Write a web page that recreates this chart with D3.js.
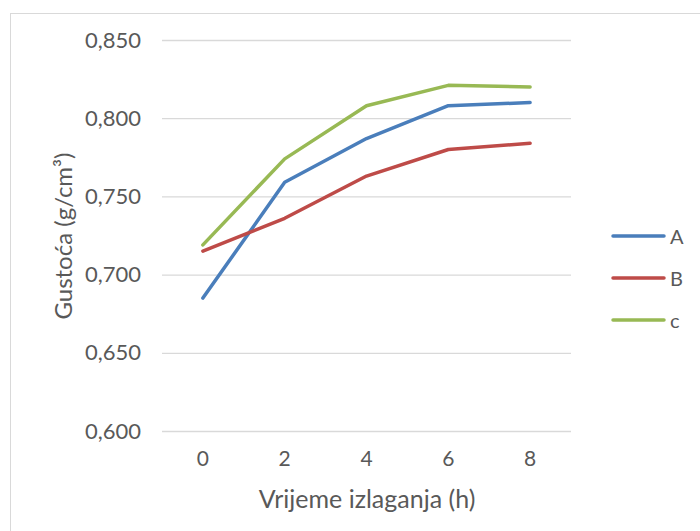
<!DOCTYPE html>
<html><head><meta charset="utf-8">
<script src="https://cdn.jsdelivr.net/npm/d3@7"></script>
<style>body{margin:0;background:#fff}svg{display:block}text{font-family:Lato,"Open Sans",sans-serif;fill:#595959}</style>
</head><body>
<svg id="c" width="700" height="531"></svg>
<script>
const categories = ["0","2","4","6","8"];
const seriesNames = ["A","B","C"];
const legendLabels = ["A","B","c"];
const valuesA = [0.685,0.759,0.787,0.808,0.810];
const valuesB = [0.715,0.736,0.763,0.780,0.784];
const valuesC = [0.719,0.774,0.808,0.821,0.820];
const yTicks = [0.600,0.650,0.700,0.750,0.800,0.850];
const colors = ["#4a7ebb","#be4b48","#98b954"];

const svg = d3.select("#c");
const allValues = [valuesA, valuesB, valuesC];
const m = {left:162, right:571, top:40, bottom:431};

svg.append("rect").attr("x",10.5).attr("y",13.5).attr("width",700).attr("height",530)
  .attr("fill","none").attr("stroke","#d9d9d9");

const x = d3.scaleBand().domain(categories).range([m.left,m.right]);
const y = d3.scaleLinear().domain([0.6,0.85]).range([m.bottom,m.top]);

const fmt = v => d3.format(".3f")(v).replace(".",",");

const yAxis = svg.append("g").attr("transform",`translate(${m.left},0)`)
  .call(d3.axisLeft(y).tickValues(yTicks).tickFormat(fmt).tickSize(-(m.right-m.left)).tickPadding(21));
yAxis.select(".domain").remove();
yAxis.selectAll(".tick line").attr("stroke","#d9d9d9").attr("stroke-width",1.3);
yAxis.selectAll(".tick text").attr("font-size",22).attr("fill","#666");

const xAxis = svg.append("g").attr("transform",`translate(0,${m.bottom})`)
  .call(d3.axisBottom(x).tickSize(0).tickPadding(20));
xAxis.select(".domain").remove();
xAxis.selectAll(".tick text").attr("font-size",21).attr("fill","#666");

const line = d3.line().x((d,i)=>x(categories[i])+x.bandwidth()/2).y(d=>y(d));
allValues.forEach((vals,k)=>{
  svg.append("path").datum(vals).attr("d",line).attr("fill","none")
    .attr("stroke",colors[k]).attr("stroke-width",3.5).attr("stroke-linejoin","round").attr("stroke-linecap","round");
});

svg.append("text").attr("transform","translate(62,236) rotate(-90)").attr("text-anchor","middle")
  .attr("dominant-baseline","central").attr("font-size",24).attr("fill","#666").text("Gustoća (g/cm³)");
svg.append("text").attr("x",367).attr("y",498).attr("text-anchor","middle")
  .attr("dominant-baseline","central").attr("font-size",25).attr("fill","#666").text("Vrijeme izlaganja (h)");

const lg = svg.append("g");
const legendY = [236,278,320];
seriesNames.forEach((s,k)=>{
  lg.append("line").attr("x1",613).attr("x2",664).attr("y1",legendY[k]).attr("y2",legendY[k])
    .attr("stroke",colors[k]).attr("stroke-width",3.5).attr("stroke-linecap","round");
  lg.append("text").attr("x",670).attr("y",legendY[k]).attr("dominant-baseline","central")
    .attr("font-size",20).attr("fill","#666").text(legendLabels[k]);
});
</script>
</body></html>
